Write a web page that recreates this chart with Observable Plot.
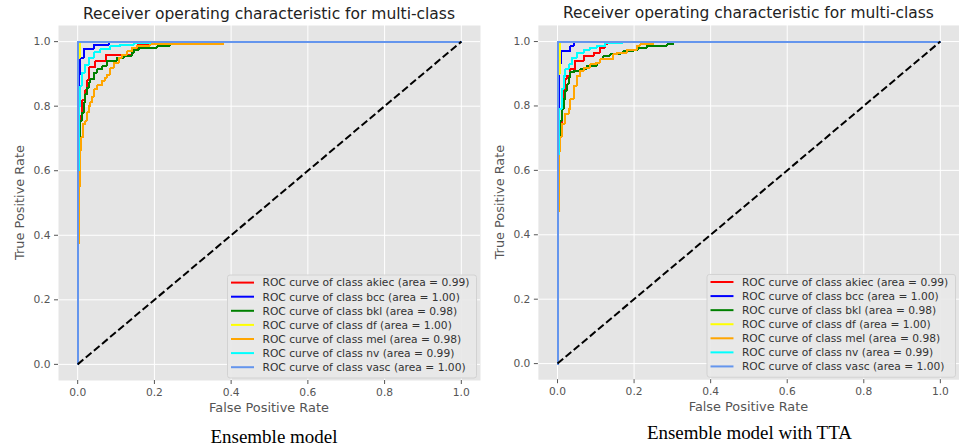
<!DOCTYPE html>
<html>
<head>
<meta charset="utf-8">
<script src="https://cdn.jsdelivr.net/npm/d3@7"></script>
<script src="https://cdn.jsdelivr.net/npm/@observablehq/plot@0.6"></script>
<style>
  html, body { margin:0; padding:0; background:#fff; }
  body { width:959px; height:447px; overflow:hidden; position:relative; }
  .panel { position:absolute; top:0; }
</style>
</head>
<body>
<div id="p0" class="panel" style="left:0px"></div>
<div id="p1" class="panel" style="left:480px"></div>
<script>
// ---------- data ----------
const classes = ["akiec", "bcc", "bkl", "df", "mel", "nv", "vasc"];
const colors  = ["red", "blue", "green", "yellow", "orange", "aqua", "cornflowerblue"];
const areas   = ["0.99", "1.00", "0.98", "1.00", "0.98", "0.99", "1.00"];
const tickValues = [0, 0.2, 0.4, 0.6, 0.8, 1.0];
const titleText = "Receiver operating characteristic for multi-class";
const xLabelText = "False Positive Rate";
const yLabelText = "True Positive Rate";
const captions = ["Ensemble model", "Ensemble model with TTA"];
const chanceX = [0, 1];
const chanceY = [0, 1];

// Ensemble model: [fpr, tpr] at each riser of the ROC staircase
const ensAkiec = [[0,0],[0,0.60],[0.004,0.70],[0.007,0.77],[0.012,0.82],[0.02,0.85],[0.024,0.88],[0.03,0.92],[0.046,0.94],[0.075,0.96],[0.141,0.98],[0.155,0.99],[0.19,1],[1,1]];
const ensBcc   = [[0,0],[0,0.84],[0.004,0.90],[0.007,0.95],[0.016,0.977],[0.042,0.99],[0.081,1],[1,1]];
const ensBkl   = [[0,0],[0,0.62],[0.003,0.70],[0.007,0.754],[0.011,0.78],[0.016,0.811],[0.02,0.837],[0.024,0.857],[0.029,0.873],[0.033,0.883],[0.042,0.904],[0.05,0.914],[0.063,0.924],[0.076,0.94],[0.102,0.95],[0.12,0.955],[0.141,0.965],[0.146,0.975],[0.159,0.981],[0.207,0.985],[0.215,0.988],[0.241,0.993],[0.272,1],[1,1]];
const ensDf    = [[0,0],[0,0.95],[0.006,1],[1,1]];
const ensMel   = [[0,0],[0,0.375],[0.004,0.55],[0.006,0.663],[0.009,0.704],[0.014,0.745],[0.02,0.754],[0.024,0.781],[0.029,0.80],[0.033,0.812],[0.037,0.83],[0.042,0.852],[0.05,0.865],[0.063,0.878],[0.07,0.888],[0.076,0.898],[0.085,0.919],[0.094,0.934],[0.107,0.95],[0.115,0.96],[0.128,0.97],[0.141,0.981],[0.155,0.988],[0.189,0.994],[0.38,1],[1,1]];
const ensNv    = [[0,0],[0,0.6],[0.004,0.80],[0.007,0.863],[0.011,0.904],[0.02,0.929],[0.029,0.95],[0.042,0.967],[0.059,0.977],[0.085,0.986],[0.111,0.991],[0.146,0.996],[0.189,1],[1,1]];
const ensVasc  = [[0,0],[0,1],[1,1]];

// Ensemble model with TTA
const ttaAkiec = [[0,0],[0,0.6],[0.004,0.73],[0.011,0.806],[0.016,0.852],[0.02,0.883],[0.024,0.893],[0.033,0.914],[0.046,0.94],[0.068,0.955],[0.094,0.965],[0.111,0.981],[0.124,0.991],[0.129,1],[1,1]];
const ttaBcc   = [[0,0],[0,0.78],[0.004,0.93],[0.008,0.97],[0.033,0.986],[0.042,1],[1,1]];
const ttaBkl   = [[0,0],[0,0.62],[0.004,0.663],[0.007,0.754],[0.011,0.79],[0.016,0.821],[0.02,0.847],[0.024,0.867],[0.029,0.888],[0.033,0.904],[0.042,0.909],[0.059,0.914],[0.076,0.924],[0.102,0.934],[0.111,0.945],[0.12,0.955],[0.137,0.96],[0.163,0.965],[0.172,0.97],[0.198,0.975],[0.211,0.981],[0.233,0.986],[0.285,0.991],[0.302,1],[1,1]];
const ttaDf    = [[0,0],[0,0.90],[0.007,1],[1,1]];
const ttaMel   = [[0,0],[0,0.473],[0.004,0.66],[0.007,0.704],[0.011,0.745],[0.02,0.776],[0.029,0.79],[0.033,0.821],[0.042,0.862],[0.05,0.893],[0.059,0.909],[0.068,0.919],[0.085,0.929],[0.1,0.934],[0.111,0.945],[0.146,0.96],[0.155,0.965],[0.181,0.975],[0.207,0.986],[0.215,0.991],[0.25,1],[1,1]];
const ttaNv    = [[0,0],[0,0.65],[0.004,0.79],[0.011,0.852],[0.016,0.893],[0.02,0.914],[0.029,0.929],[0.037,0.95],[0.05,0.965],[0.068,0.975],[0.085,0.981],[0.102,0.986],[0.124,0.996],[0.17,1],[1,1]];
const ttaVasc  = [[0,0],[0,1],[1,1]];

const ensCurves = [ensAkiec, ensBcc, ensBkl, ensDf, ensMel, ensNv, ensVasc];
const ttaCurves = [ttaAkiec, ttaBcc, ttaBkl, ttaDf, ttaMel, ttaNv, ttaVasc];

// ---------- drawing ----------
const SANS = "DejaVu Sans, Verdana, sans-serif";

function panel(curves, caption, captionX, captionY) {
  const rows = classes.flatMap((c, i) => curves[i].map(([x, y]) => ({cls: c, x, y})));
  const diag = chanceX.map((x, i) => ({x, y: chanceY[i]}));
  const chart = Plot.plot({
    width: 480, height: 447,
    marginLeft: 58, marginRight: 0, marginTop: 25, marginBottom: 67,
    style: {background: "transparent", color: "#555555", fontFamily: SANS, fontSize: "10.7px", overflow: "visible"},
    x: {domain: [-0.05, 1.05]},
    y: {domain: [-0.05, 1.05]},
    color: {domain: classes, range: colors},
    marks: [
      Plot.frame({fill: "#E5E5E5", stroke: "none"}),
      Plot.gridX({ticks: tickValues, stroke: "white", strokeOpacity: 1, strokeWidth: 1}),
      Plot.gridY({ticks: tickValues, stroke: "white", strokeOpacity: 1, strokeWidth: 1}),
      Plot.axisX({ticks: tickValues, tickFormat: ".1f", tickSize: 4, tickPadding: 4, label: null, fontSize: 10.7}),
      Plot.axisY({ticks: tickValues, tickFormat: ".1f", tickSize: 4, tickPadding: 4, label: null, fontSize: 10.7}),
      Plot.line(rows, {x: "x", y: "y", z: "cls", stroke: "cls", curve: "step-after", strokeWidth: 2,
                       strokeLinejoin: "miter", strokeLinecap: "square", shapeRendering: "crispEdges"}),
      Plot.line(diag, {x: "x", y: "y", stroke: "black", strokeWidth: 2, strokeDasharray: "7.4,3.2", strokeLinecap: "butt"})
    ]
  });

  const svg = d3.select(chart);
  // title
  svg.append("text").attr("x", 269).attr("y", 18.5).attr("text-anchor", "middle")
    .attr("font-family", SANS).attr("font-size", 15.5).attr("fill", "#222").text(titleText);
  // axis labels
  svg.append("text").attr("x", 269).attr("y", 411.5).attr("text-anchor", "middle")
    .attr("font-family", SANS).attr("font-size", 12.9).attr("fill", "#555").text(xLabelText);
  svg.append("text").attr("transform", "translate(24,202.5) rotate(-90)").attr("text-anchor", "middle")
    .attr("font-family", SANS).attr("font-size", 12.9).attr("fill", "#555").text(yLabelText);
  // legend
  const lg = svg.append("g").attr("text-anchor", "start");
  lg.append("rect").attr("x", 227.5).attr("y", 275).attr("width", 249).attr("height", 103)
    .attr("rx", 2.5).attr("fill", "#E8E8E8").attr("fill-opacity", 0.9).attr("stroke", "#D2D2D2");
  classes.forEach((c, i) => {
    const cy = 282.6 + i * 14.1;
    lg.append("line").attr("x1", 231).attr("x2", 254).attr("y1", cy).attr("y2", cy)
      .attr("stroke", colors[i]).attr("stroke-width", 2);
    lg.append("text").attr("x", 262.5).attr("y", cy).attr("dy", "0.36em").attr("text-anchor", "start")
      .attr("font-family", SANS).attr("font-size", 10.7).attr("fill", "#333")
      .text(`ROC curve of class ${c} (area = ${areas[i]})`);
  });
  // caption
  svg.append("text").attr("x", captionX).attr("y", captionY).attr("text-anchor", "middle")
    .attr("font-family", "Liberation Serif, Times New Roman, serif").attr("font-size", 19).attr("fill", "#000")
    .text(caption);
  return chart;
}

document.getElementById("p0").appendChild(panel(ensCurves, captions[0], 274, 443));
document.getElementById("p1").appendChild(panel(ttaCurves, captions[1], 270, 440));
</script>
</body>
</html>
